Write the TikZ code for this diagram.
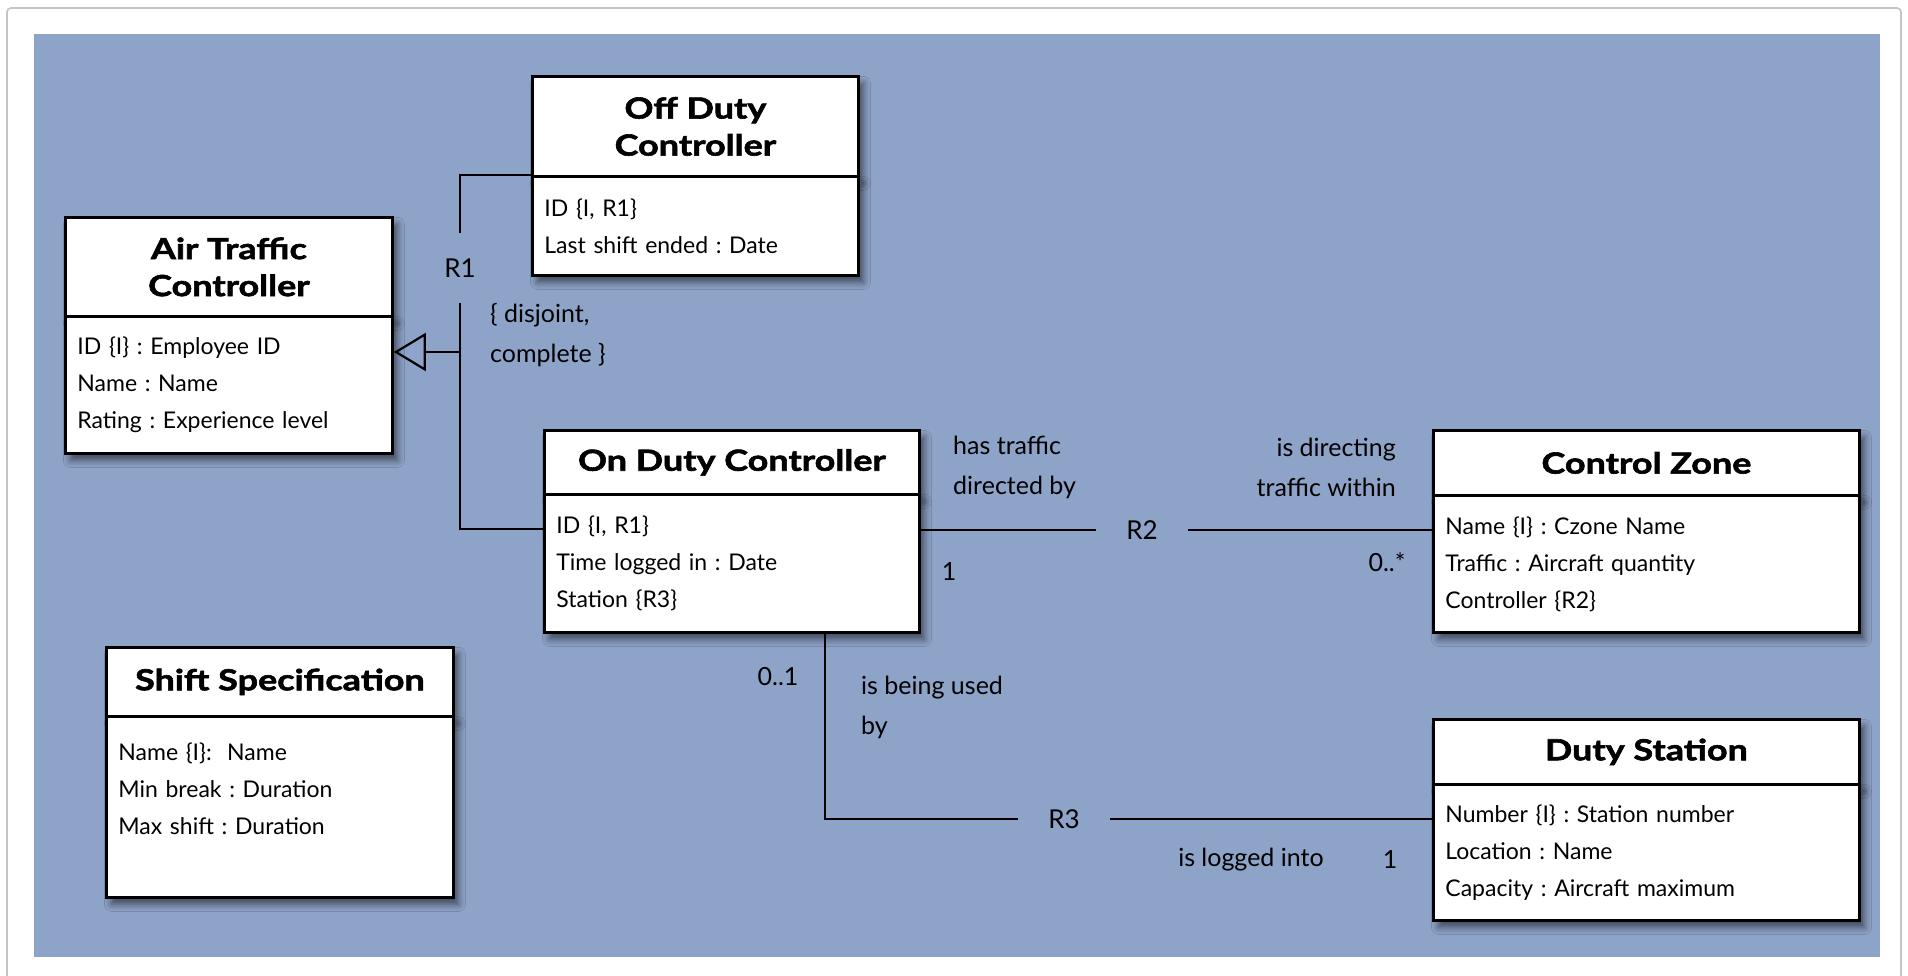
\documentclass[tikz,border=0pt]{standalone}
\usepackage{fontspec}
\setmainfont{Lato}
\newfontfamily\classnamefont{Lato}[FakeStretch=1.24, FakeBold=2]
\usetikzlibrary{shadows.blur,arrows.meta,calc}
\definecolor{canvasblue}{RGB}{142,163,200}
\definecolor{framegray}{RGB}{196,196,196}
\begin{document}
\frenchspacing
\begin{tikzpicture}[x=1pt,y=-1pt,
  boxshadow/.style={blur shadow={shadow xshift=5pt, shadow yshift=-7pt, shadow blur radius=7pt, shadow opacity=55}},
  classtitle/.style={draw=black, line width=2.8pt, fill=white, anchor=north west,
    inner sep=0pt, align=center, boxshadow,
    font=\classnamefont\fontsize{29}{37}\selectfont\bfseries},
  classbody/.style={draw=black, line width=2.8pt, fill=white, anchor=north west,
    inner xsep=12pt, inner ysep=0pt, align=left, boxshadow,
    font=\fontsize{23}{37}\selectfont},
  link/.style={draw=black, line width=2.2pt},
  relname/.style={inner sep=0pt, font=\fontsize{26}{30}\selectfont},
  phrase/.style={inner sep=0pt, font=\fontsize{25}{40}\selectfont},
  mult/.style={inner sep=0pt, font=\fontsize{25}{29}\selectfont}]

\useasboundingbox (0,0) rectangle (1908,976);
% page frame and canvas
\fill[white] (0,0) rectangle (1908,976);
\draw[framegray, line width=1.6pt, rounded corners=4pt] (7,8) rectangle (1901,985);
\fill[canvasblue] (34,34) rectangle (1880,957);

% Air Traffic Controller
\node[classtitle, minimum width=327, minimum height=99] (atc) at (64,216) {Air Traffic\\Controller};
\node[classbody, text width=303, minimum height=137] (atcB) at (64,315)
  {ID \{I\} : Employee ID\\Name : Name\\Rating : Experience level};

% Off Duty Controller
\node[classtitle, minimum width=326, minimum height=100] (odc) at (531,75) {Off Duty\\Controller};
\node[classbody, text width=302, minimum height=99] (odcB) at (531,175)
  {ID \{I, R1\}\\Last shift ended : Date};

% On Duty Controller
\node[classtitle, minimum width=375, minimum height=64] (ondc) at (543,429) {On Duty Controller};
\node[classbody, text width=351, minimum height=138] (ondcB) at (543,493)
  {ID \{I, R1\}\\Time logged in : Date\\Station \{R3\}};

% Control Zone
\node[classtitle, minimum width=426, minimum height=65] (cz) at (1432,429) {Control Zone};
\node[classbody, text width=402, minimum height=137] (czB) at (1432,494)
  {Name \{I\} : Czone Name\\Traffic : Aircraft quantity\\Controller \{R2\}};

% Duty Station
\node[classtitle, minimum width=426, minimum height=65] (ds) at (1432,718) {Duty Station};
\node[classbody, text width=402, minimum height=136] (dsB) at (1432,783)
  {Number \{I\} : Station number\\Location : Name\\Capacity : Aircraft maximum};

% Shift Specification
\node[classtitle, minimum width=347, minimum height=69] (ss) at (105,646) {Shift Specification};
\node[classbody, text width=323, minimum height=181] (ssB) at (105,715)
  {Name \{I\}:\ \ Name\\Min break : Duration\\Max shift : Duration\\\mbox{}};

% R1 generalization
\node[relname, minimum height=70] (r1) at (460,268) {R1};
\draw[link] (odcB.north west) -| (r1.north);
\draw[link] (r1.south) |- ($(ondcB.north west)+(0,36)$);
\coordinate (gj) at (r1.south |- 0,352);
\draw[link, -{Triangle[open, length=32pt, width=38pt, line width=2.2pt]}] (gj) -- (atcB.east |- gj);
\node[phrase, anchor=west, align=left] (r1c) at (490,335) {\{ disjoint,\\complete \}};

% R2 association
\node[relname, minimum width=92] (r2) at (1142,530) {R2};
\draw[link] (ondcB.east |- r2) -- (r2);
\draw[link] (r2) -- (czB.west |- r2);
\node[phrase, anchor=west, align=left] (r2a) at (953,467) {has traffic\\directed by};
\node[phrase, anchor=east, align=right] (r2b) at (1396,467) {is directing\\traffic within};
\node[mult] (r2m1) at (949,572) {1};
\node[mult] (r2m2) at (1387,562) {0..*};

% R3 association
\node[relname, minimum width=92] (r3) at (1064,819) {R3};
\coordinate (r3s) at ($(ondcB.south west)+(282,0)$);
\draw[link] (r3s) |- (r3);
\draw[link] (r3) -- (dsB.west |- r3);
\node[mult] (r3m1) at (778,677) {0..1};
\node[phrase, anchor=west, align=left] (r3a) at (861,707) {is being used\\by};
\node[phrase] (r3b) at (1251,860) {is logged into};
\node[mult] (r3m2) at (1390,860) {1};
\end{tikzpicture}
\end{document}
